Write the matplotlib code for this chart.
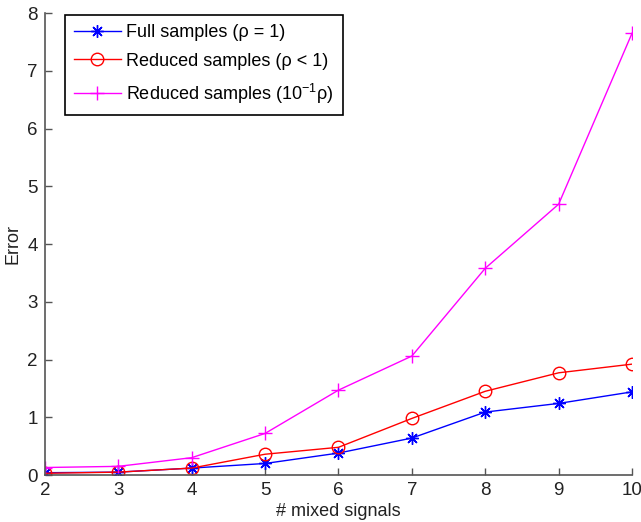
import matplotlib
matplotlib.use('Agg')
import matplotlib.pyplot as plt

plt.rcParams['font.family'] = ['Liberation Sans', 'DejaVu Sans']
plt.rcParams['mathtext.fontset'] = 'custom'
plt.rcParams['mathtext.rm'] = 'Liberation Sans'

# data
n_signals = [2, 3, 4, 5, 6, 7, 8, 9, 10]
full_err = [0.04, 0.05, 0.12, 0.20, 0.38, 0.64, 1.09, 1.24, 1.44]
reduced_err = [0.03, 0.05, 0.12, 0.36, 0.48, 0.98, 1.45, 1.77, 1.92]
reduced_scaled_err = [0.13, 0.15, 0.30, 0.72, 1.47, 2.06, 3.58, 4.69, 7.65]

labels = ['Full samples (\u03c1 = 1)',
          'Reduced samples (\u03c1 < 1)',
          'Reduced samples (10$^{-1}$\u03c1)']

fig = plt.figure(figsize=(6.41, 5.22), dpi=100)
ax = fig.add_axes([0.070, 0.090, 0.916, 0.885])

# MATLAB-style asterisk marker
asterisk = (8, 2, 0)
ax.plot(n_signals, full_err, color='blue', marker=asterisk, markersize=9,
        markeredgewidth=1, linewidth=1, label=labels[0])
ax.plot(n_signals, reduced_err, color='red', marker='o', markersize=9,
        markerfacecolor='none', linewidth=1, label=labels[1])
ax.plot(n_signals, reduced_scaled_err, color='magenta', marker='+', markersize=10,
        linewidth=1, label=labels[2])

ax.set_xlim(2, 10)
ax.set_ylim(0, 8)
ax.set_xticks(n_signals)
ax.set_yticks(range(0, 9))

for side in ['top', 'right']:
    ax.spines[side].set_visible(False)
for side in ['left', 'bottom']:
    ax.spines[side].set_color('#555555')
    ax.spines[side].set_linewidth(1.2)
ax.tick_params(direction='in', length=5, width=1, color='#555555',
               labelsize=13.5, labelcolor='#222222', pad=5)

ax.set_xlabel('# mixed signals', fontsize=13, labelpad=3, color='#222222')
ax.set_ylabel('Error', fontsize=13, labelpad=4, color='#222222')

leg = ax.legend(loc='upper left', bbox_to_anchor=(20 / 587, 1 - 2 / 462),
                borderaxespad=0, fontsize=13, fancybox=False, framealpha=1,
                handlelength=2.6, handletextpad=0.3, borderpad=0.5,
                labelspacing=0.65)
leg.get_frame().set_edgecolor('black')
leg.get_frame().set_linewidth(1.2)

fig.savefig('out.png', dpi=100)
